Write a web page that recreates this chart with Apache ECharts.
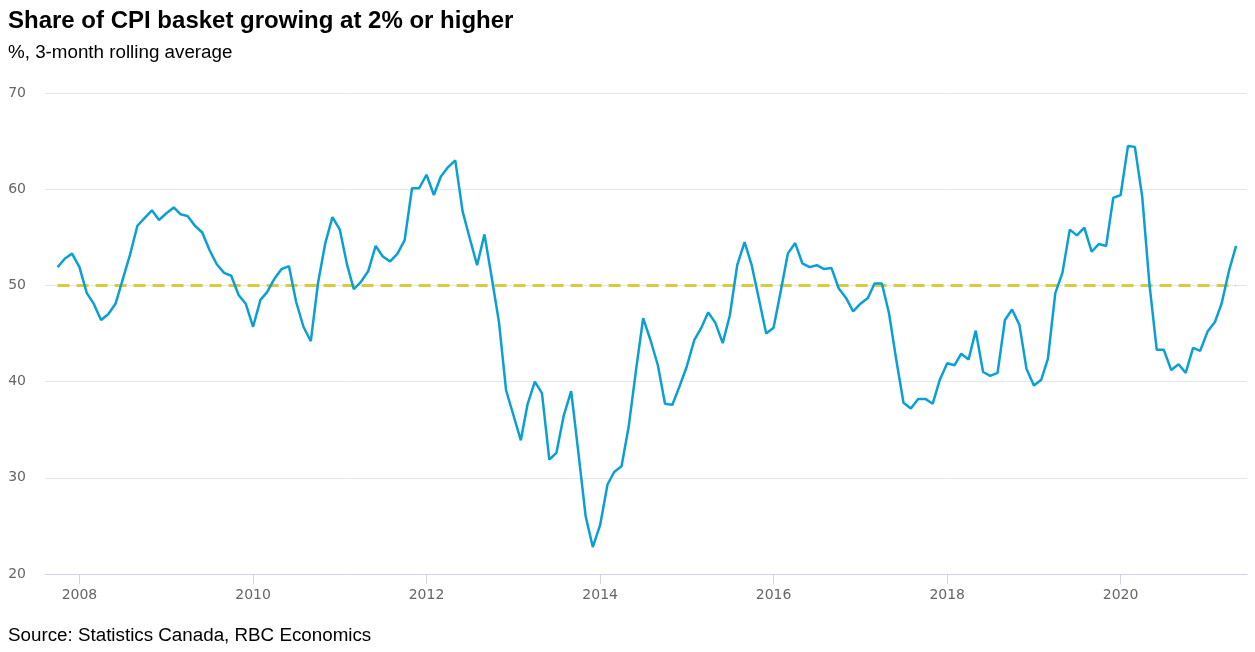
<!DOCTYPE html>
<html>
<head>
<meta charset="utf-8">
<script src="https://cdn.jsdelivr.net/npm/echarts@6/dist/echarts.min.js"></script>
<style>
html,body{margin:0;padding:0;background:#fff;}
#chart{width:1255px;height:652px;}
</style>
</head>
<body>
<div id="chart"></div>
<script>
// Monthly data, starting October 2007
var startYear = 2007, startMonth = 10;
var shareValues = [
  51.9, 52.8, 53.3,                                                   // 2007 Oct-Dec
  51.9, 49.2, 48.1, 46.4, 47.0, 48.1, 50.6, 53.2, 56.2, 57.0, 57.8, 56.8, // 2008
  57.5, 58.1, 57.4, 57.2, 56.2, 55.5, 53.7, 52.2, 51.3, 51.0, 49.0, 48.1, // 2009
  45.7, 48.5, 49.3, 50.7, 51.7, 52.0, 48.3, 45.7, 44.2, 50.2, 54.4, 57.1, // 2010
  55.8, 52.1, 49.6, 50.4, 51.5, 54.1, 53.0, 52.5, 53.3, 54.7, 60.1, 60.1, // 2011
  61.5, 59.4, 61.3, 62.3, 63.0, 57.7, 54.9, 52.1, 55.3, 50.9, 46.2, 39.1, // 2012
  36.5, 33.9, 37.6, 40.0, 38.8, 31.9, 32.6, 36.5, 39.0, 32.7, 26.0, 22.8, // 2013
  25.1, 29.3, 30.6, 31.2, 35.3, 41.2, 46.6, 44.3, 41.7, 37.7, 37.6, 39.5, // 2014
  41.6, 44.3, 45.5, 47.2, 46.1, 44.0, 46.9, 52.1, 54.5, 52.1, 48.5, 45.0, // 2015
  45.6, 49.5, 53.3, 54.4, 52.3, 51.9, 52.1, 51.7, 51.8, 49.7, 48.7, 47.3, // 2016
  48.1, 48.7, 50.2, 50.2, 47.1, 42.2, 37.8, 37.2, 38.2, 38.2, 37.7, 40.2, // 2017
  41.9, 41.7, 42.9, 42.3, 45.3, 41.0, 40.6, 40.9, 46.4, 47.5, 45.9, 41.3, // 2018
  39.6, 40.2, 42.4, 49.2, 51.3, 55.8, 55.2, 56.0, 53.5, 54.3, 54.1, 59.1, // 2019
  59.4, 64.5, 64.4, 59.2, 50.2, 43.3, 43.3, 41.2, 41.8, 40.9, 43.5, 43.2, // 2020
  45.2, 46.2, 48.1, 51.5, 54.1                                          // 2021 Jan-May
];
var thresholdValue = 50;
var yearTicks = [2008, 2010, 2012, 2014, 2016, 2018, 2020];

// Month timestamps built from the start month
var monthTimes = [];
for (var i = 0; i < shareValues.length; i++) {
  var m = startMonth - 1 + i;
  monthTimes.push(Date.UTC(startYear + Math.floor(m / 12), m % 12, 1));
}
var shareData = monthTimes.map(function (t, i) { return [t, shareValues[i]]; });
var thresholdData = monthTimes.map(function (t) { return [t, thresholdValue]; });
var tickTimes = yearTicks.map(function (y) { return Date.UTC(y, 0, 1); });

var chart = echarts.init(document.getElementById('chart'), null, { renderer: 'canvas' });
var font = 'Liberation Sans, Arial, sans-serif';
chart.setOption({
  animation: false,
  backgroundColor: '#ffffff',
  title: [
    { text: 'Share of CPI basket growing at 2% or higher', left: 8, top: 9, padding: 0,
      textStyle: { fontFamily: font, fontWeight: 'bold', fontSize: 24, color: '#000' } },
    { text: '%, 3-month rolling average', left: 8, top: 43, padding: 0,
      textStyle: { fontFamily: font, fontWeight: 'normal', fontSize: 18.8, color: '#000' } },
    { text: 'Source: Statistics Canada, RBC Economics', left: 8, top: 626, padding: 0,
      textStyle: { fontFamily: font, fontWeight: 'normal', fontSize: 18.8, color: '#000' } }
  ],
  grid: { left: 45, right: 8, top: 93, bottom: 78, containLabel: false },
  xAxis: {
    type: 'value',
    min: Date.UTC(2007, 7, 9),
    max: Date.UTC(2021, 5, 16),
    axisLine: { show: true, lineStyle: { color: '#ccd6eb', width: 1 } },
    axisTick: { show: true, length: 10, customValues: tickTimes, lineStyle: { color: '#ccd6eb' } },
    axisLabel: {
      customValues: tickTimes, margin: 14,
      fontFamily: 'DejaVu Sans', fontSize: 14, color: '#666666',
      formatter: function (v) { return String(new Date(v).getUTCFullYear()); }
    },
    splitLine: { show: false }
  },
  yAxis: {
    type: 'value', min: 20, max: 70, interval: 10,
    axisLine: { show: false }, axisTick: { show: false },
    axisLabel: { margin: 19, fontFamily: 'DejaVu Sans', fontSize: 14, color: '#666666' },
    splitLine: { show: true, lineStyle: { color: '#e6e6e6', width: 1 } }
  },
  series: [
    { name: 'Threshold', type: 'line', data: thresholdData, symbol: 'none', silent: true,
      lineStyle: { color: '#d9cb3c', width: 3, type: [12, 7] }, z: 2 },
    { name: 'Share', type: 'line', data: shareData, symbol: 'none',
      lineStyle: { color: '#0a9fd5', width: 2.5 }, z: 3 }
  ]
});
</script>
</body>
</html>
